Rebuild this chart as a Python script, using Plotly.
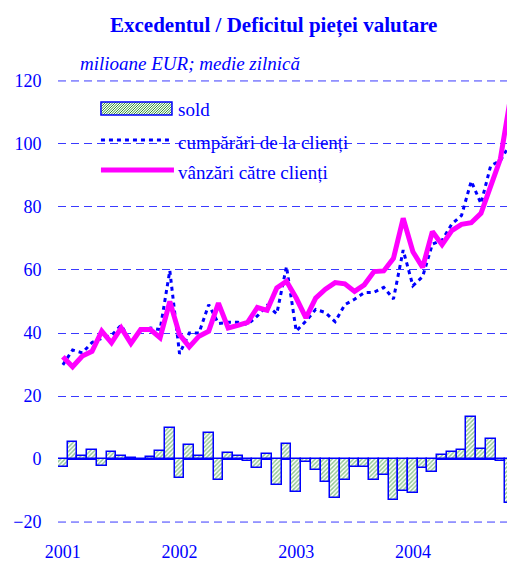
import plotly.graph_objects as go

# Month categories Jan 2001 .. Nov 2004
luni = [f"{an}-{l:02d}" for an in range(2001, 2005) for l in range(1, 13)][:47]

sold = [-2.6, 5.3, 1.0, 2.8, -2.3, 2.3, 0.9, 0.3, -0.4, 0.5, 2.6, 9.8,
        -6.1, 4.4, 1.0, 8.4, -6.5, 1.8, 1.0, -0.7, -2.7, 1.5, -8.2, 4.7,
        -10.5, -1.0, -3.6, -7.4, -12.4, -6.6, -2.5, -2.5, -6.6, -5.2, -12.9, -10.1,
        -10.8, -2.9, -4.0, 1.4, 2.1, 2.8, 13.2, 3.1, 6.5, -0.6, -14.0]

cumparari = [29.9, 34.6, 33.7, 37.0, 38.3, 39.2, 42.5, 37.0, 40.7, 41.6, 41.1, 59.8,
             33.4, 40.0, 40.0, 49.0, 43.0, 43.4, 43.4, 42.7, 45.4, 48.7, 46.1, 61.1,
             40.6, 43.8, 47.5, 46.5, 43.6, 49.0, 50.7, 52.8, 52.9, 54.5, 50.8, 66.3,
             55.0, 57.9, 68.2, 69.4, 74.6, 77.3, 88.2, 81.1, 93.1, 94.7, 100.0]

vanzari = [32.5, 29.3, 32.7, 34.2, 40.6, 36.9, 41.6, 36.7, 41.1, 41.1, 38.5, 50.0,
           39.5, 35.6, 39.0, 40.6, 49.5, 41.6, 42.4, 43.4, 48.1, 47.2, 54.3, 56.4,
           51.1, 44.8, 51.1, 53.9, 56.0, 55.6, 53.2, 55.3, 59.5, 59.7, 63.7, 76.4,
           65.8, 60.8, 72.2, 68.0, 72.5, 74.5, 75.0, 78.0, 86.6, 95.3, 114.0]

ani_tick = ["2001-01", "2002-01", "2003-01", "2004-01"]
ani_text = ["2001", "2002", "2003", "2004"]
y_min, y_max = -20, 120

BLUE = "#0000ff"
GRID = "#3a3aff"
GREEN = "#2a8f2a"
MAGENTA = "#ff00ff"
FONT = "Liberation Serif"

fig = go.Figure()
fig.add_trace(go.Bar(
    x=luni, y=sold, name="sold",
    marker=dict(color="white",
                pattern=dict(shape="/", fgcolor=GREEN, bgcolor="white", size=3, solidity=0.5),
                line=dict(color=BLUE, width=1.5)),
))
fig.add_trace(go.Scatter(
    x=luni, y=cumparari, name="cumpărări de la clienți", mode="lines",
    line=dict(color=BLUE, width=3, dash="4px,4px"),
))
fig.add_trace(go.Scatter(
    x=luni, y=vanzari, name="vânzări către clienți", mode="lines",
    line=dict(color=MAGENTA, width=5),
))

shapes = []
# grid lines at the two range edges (plotly omits them)
for yv in (y_min, y_max):
    shapes.append(dict(type="line", xref="paper", yref="y", x0=0, x1=1, y0=yv, y1=yv,
                       line=dict(color=GRID, width=1, dash="8px,5px"), layer="below"))

# ---- hand-drawn legend (keys are pixel-sized, anchored in paper coords) ----
KEY_X = 0.094
KEY_W = 71
box_y = 0.9503
box_h = 13
shapes.append(dict(type="rect", xref="paper", yref="paper", xsizemode="pixel", ysizemode="pixel",
                   xanchor=KEY_X, yanchor=box_y, x0=0, x1=KEY_W, y0=0, y1=-box_h,
                   fillcolor="white", line=dict(width=0), layer="above"))
segs = []
step = 2.5
c = -box_h
while c < KEY_W:
    xa, ya = c, 0
    if xa < 0:
        xa, ya = 0, -c
    xb, yb = c + box_h, box_h
    if xb > KEY_W:
        xb, yb = KEY_W, KEY_W - c
    if xa < xb:
        segs.append(f"M{xa},{-(box_h - ya)} L{xb},{-(box_h - yb)}")
    c += step
shapes.append(dict(type="path", xref="paper", yref="paper", xsizemode="pixel", ysizemode="pixel",
                   xanchor=KEY_X, yanchor=box_y, path=" ".join(segs),
                   line=dict(color=GREEN, width=1), layer="above"))
shapes.append(dict(type="rect", xref="paper", yref="paper", xsizemode="pixel", ysizemode="pixel",
                   xanchor=KEY_X, yanchor=box_y, x0=0, x1=KEY_W, y0=0, y1=-box_h,
                   fillcolor="rgba(0,0,0,0)", line=dict(color=BLUE, width=1.5), layer="above"))
shapes.append(dict(type="line", xref="paper", yref="paper", xsizemode="pixel",
                   xanchor=KEY_X, x0=0, x1=KEY_W, y0=0.8646, y1=0.8646,
                   line=dict(color=BLUE, width=3, dash="4px,4px"), layer="above"))
shapes.append(dict(type="line", xref="paper", yref="paper", xsizemode="pixel",
                   xanchor=KEY_X, x0=0, x1=KEY_W + 2, y0=0.7968, y1=0.7968,
                   line=dict(color=MAGENTA, width=5), layer="above"))

leg_font = dict(size=19, family=FONT, color=BLUE)
annotations = [
    dict(text="<b>Excedentul / Deficitul pieței valutare</b>", xref="paper", yref="paper",
         x=0.4726, y=1.0, yshift=55, xanchor="center", yanchor="middle", showarrow=False,
         font=dict(size=21, family=FONT, color=BLUE)),
    dict(text="<i>milioane EUR; medie zilnică</i>", xref="paper", yref="paper",
         x=0.0438, y=1.0, yshift=17, xanchor="left", yanchor="middle", showarrow=False,
         font=dict(size=19, family=FONT, color=BLUE)),
    dict(text="sold", xref="paper", yref="paper", x=0.2582, y=0.9345,
         xanchor="left", yanchor="middle", showarrow=False, font=leg_font),
    dict(text=fig.data[1].name, xref="paper", yref="paper", x=0.2582, y=0.8600,
         xanchor="left", yanchor="middle", showarrow=False, font=leg_font),
    dict(text=fig.data[2].name, xref="paper", yref="paper", x=0.2582, y=0.7923,
         xanchor="left", yanchor="middle", showarrow=False, font=leg_font),
]

fig.update_layout(
    width=507, height=554,
    margin=dict(l=50, r=0, t=72, b=39),
    paper_bgcolor="white", plot_bgcolor="white",
    font=dict(family=FONT, color=BLUE, size=18),
    bargap=0,
    showlegend=False,
    xaxis=dict(type="category", range=[-0.5, 46.5], tickmode="array",
               tickvals=ani_tick, ticktext=ani_text, showgrid=False,
               showline=False, zeroline=False,
               ticks="outside", ticklen=12, tickcolor="rgba(0,0,0,0)",
               tickfont=dict(size=18, color=BLUE, family=FONT)),
    yaxis=dict(range=[y_min - 0.3, y_max + 0.3], dtick=20, tick0=0, showgrid=True,
               gridcolor=GRID, gridwidth=1, griddash="8px,5px",
               zeroline=True, zerolinecolor=BLUE, zerolinewidth=1.5,
               showline=False,
               ticks="outside", ticklen=12, tickcolor="rgba(0,0,0,0)",
               tickfont=dict(size=18, color=BLUE, family=FONT)),
    shapes=shapes,
    annotations=annotations,
)

fig.write_html("out.html")
